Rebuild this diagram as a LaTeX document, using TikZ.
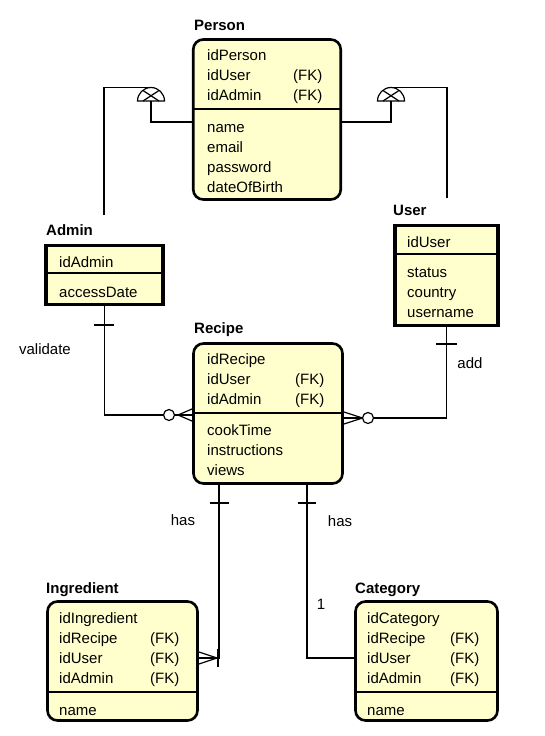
\documentclass[tikz,border=0pt]{standalone}
\usepackage{fontspec}
\setmainfont{Liberation Sans}
\usetikzlibrary{calc}
\definecolor{entfill}{RGB}{255,255,205}
\begin{document}
\begin{tikzpicture}[x=1pt,y=-1pt,
  ent/.style={draw=black, line width=2.6pt, fill=entfill, rounded corners=10pt, inner sep=0pt, outer sep=0pt},
  sent/.style={draw=black, line width=3.2pt, fill=entfill, inner sep=0pt, outer sep=0pt},
  attr/.style={anchor=base west, inner sep=0pt, font=\fontsize{15}{18}\selectfont},
  ttl/.style={anchor=base west, inner sep=0pt, font=\fontsize{15}{18}\selectfont\bfseries},
  lbl/.style={anchor=base, inner sep=0pt, font=\fontsize{15}{18}\selectfont},
  conn/.style={draw=black, line width=1.2pt},
  dv/.style={draw=black, line width=1.1pt}]
\fill[white] (0,0) rectangle (545,736);
\useasboundingbox (0,0) rectangle (545,736);

% ---------- entities ----------
\node[ent, minimum width=147.5pt, minimum height=160pt] (person) at (267,119.5) {};
\draw[dv] (person.west |- 0,109) -- (person.east |- 0,109);
\node[ttl] (personT) at (194,30.5) {Person};
\node[attr] (p1) at (207,60.5) {idPerson};
\node[attr] (p2) at (207,80.5) {idUser};
\node[attr] (p2f) at (293,80.5) {(FK)};
\node[attr] (p3) at (207,100.5) {idAdmin};
\node[attr] (p3f) at (293,100.5) {(FK)};
\node[attr] (p4) at (207,132.5) {name};
\node[attr] (p5) at (207,152.5) {email};
\node[attr] (p6) at (207,172.5) {password};
\node[attr] (p7) at (207,192.5) {dateOfBirth};

\node[sent, minimum width=117pt, minimum height=59pt] (admin) at (104.5,275) {};
\draw[dv] (admin.west |- 0,273) -- (admin.east |- 0,273);
\node[ttl] (adminT) at (46,235.5) {Admin};
\node[attr] (a1) at (59,267.5) {idAdmin};
\node[attr] (a2) at (59,297.5) {accessDate};

\node[sent, minimum width=103pt, minimum height=100pt] (user) at (446.5,275.5) {};
\draw[dv] (user.west |- 0,254) -- (user.east |- 0,254);
\node[ttl] (userT) at (393,215.5) {User};
\node[attr] (u1) at (407,247.5) {idUser};
\node[attr] (u2) at (407,277.5) {status};
\node[attr] (u3) at (407,297.5) {country};
\node[attr] (u4) at (407,317.5) {username};

\node[ent, minimum width=149pt, minimum height=140pt] (recipe) at (268,413.5) {};
\draw[dv] (recipe.west |- 0,413) -- (recipe.east |- 0,413);
\node[ttl] (recipeT) at (194,333.5) {Recipe};
\node[attr] (r1) at (207,364.5) {idRecipe};
\node[attr] (r2) at (207,384.5) {idUser};
\node[attr] (r2f) at (295,384.5) {(FK)};
\node[attr] (r3) at (207,404) {idAdmin};
\node[attr] (r3f) at (295,404) {(FK)};
\node[attr] (r4) at (207,435.5) {cookTime};
\node[attr] (r5) at (207,455.5) {instructions};
\node[attr] (r6) at (207,475.5) {views};

\node[ent, minimum width=150pt, minimum height=119pt] (ingredient) at (122.5,661) {};
\draw[dv] (ingredient.west |- 0,692) -- (ingredient.east |- 0,692);
\node[ttl] (ingredientT) at (46,593.5) {Ingredient};
\node[attr] (i1) at (59,623.5) {idIngredient};
\node[attr] (i2) at (59,643.5) {idRecipe};
\node[attr] (i2f) at (150,643.5) {(FK)};
\node[attr] (i3) at (59,663.5) {idUser};
\node[attr] (i3f) at (150,663.5) {(FK)};
\node[attr] (i4) at (59,683) {idAdmin};
\node[attr] (i4f) at (150,683) {(FK)};
\node[attr] (i5) at (59,715.5) {name};

\node[ent, minimum width=142pt, minimum height=119pt] (category) at (426.5,661) {};
\draw[dv] (category.west |- 0,692) -- (category.east |- 0,692);
\node[ttl] (categoryT) at (355,593.5) {Category};
\node[attr] (c1) at (367,623.5) {idCategory};
\node[attr] (c2) at (367,643.5) {idRecipe};
\node[attr] (c2f) at (450,643.5) {(FK)};
\node[attr] (c3) at (367,663.5) {idUser};
\node[attr] (c3f) at (450,663.5) {(FK)};
\node[attr] (c4) at (367,683) {idAdmin};
\node[attr] (c4f) at (450,683) {(FK)};
\node[attr] (c5) at (367,715.5) {name};

% ---------- inheritance ----------
\coordinate (inhL) at (151,101);
\coordinate (inhR) at (391,101);
\coordinate (aEnd) at (104,215);
\coordinate (uEnd) at (447,198);
\foreach \c in {inhL,inhR}{
  \draw[conn] ($(\c)+(-13.5,0)$) arc[start angle=180,end angle=0,radius=13.5pt] -- cycle;
  \draw[conn] ($(\c)+(-8,0)$) -- ($(\c)+(8,-10.5)$);
  \draw[conn] ($(\c)+(8,0)$) -- ($(\c)+(-8,-10.5)$);
}
\draw[conn] (aEnd) |- ($(inhL)+(0,-13.5)$);
\draw[conn] (inhL) |- (person.west |- 0,122);
\draw[conn] (uEnd) |- ($(inhR)+(0,-13.5)$);
\draw[conn] (inhR) |- (person.east |- 0,122);

% ---------- Admin - Recipe ----------
\draw[conn] (admin.south) |- (recipe.west |- 0,415);
\draw[conn] (94,325) -- (114,325);
\draw[conn, fill=white] (169,415) circle[radius=5.5pt];
\draw[conn] (178,415) -- (192,409) (178,415) -- (192,421);
\node[lbl] (validateL) at (45,354.5) {validate};

% ---------- User - Recipe ----------
\draw[conn] (user.south) |- (recipe.east |- 0,418);
\draw[conn] (436,344) -- (457,344);
\draw[conn, fill=white] (368,418) circle[radius=5.5pt];
\draw[conn] (362.5,418) -- (344,412) (362.5,418) -- (344,424);
\node[lbl] (addL) at (470,368.5) {add};

% ---------- Recipe - Ingredient ----------
\draw[conn] (recipe.south -| 219,0) |- (ingredient.east |- 0,658);
\draw[conn] (210,503) -- (229,503);
\draw[conn] (218,649) -- (218,667);
\draw[conn] (217,658) -- (199,652) (217,658) -- (199,664);
\node[lbl] (hasL) at (183,525.5) {has};

% ---------- Recipe - Category ----------
\draw[conn] (recipe.south -| 307,0) |- (category.west |- 0,658);
\draw[conn] (298,503) -- (316,503);
\node[lbl] (hasR) at (340,526.5) {has};
\node[lbl] (oneL) at (321,609.5) {1};
\end{tikzpicture}
\end{document}
